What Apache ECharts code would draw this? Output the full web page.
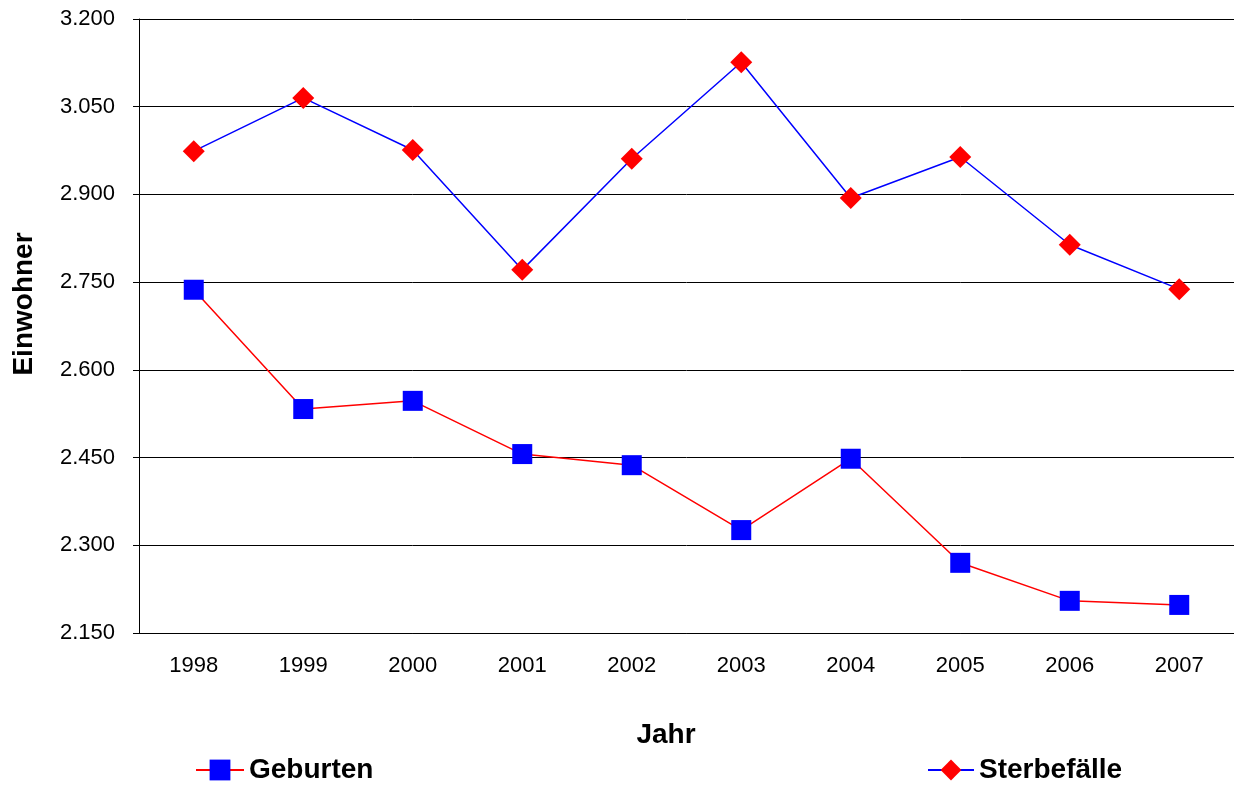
<!DOCTYPE html>
<html>
<head>
<meta charset="utf-8">
<script src="https://cdn.jsdelivr.net/npm/echarts@6/dist/echarts.min.js"></script>
<style>
    html, body { margin: 0; padding: 0; background: #fff; }
    #chart { width: 1234px; height: 785px; }
</style>
</head>
<body>
<div id="chart"></div>
<script>
// Jahre und Werte
var jahre = ['1998', '1999', '2000', '2001', '2002', '2003', '2004', '2005', '2006', '2007']
var geburten = [2737, 2533, 2547, 2456, 2437, 2326, 2448, 2270, 2205, 2198]
var sterbefaelle = [2974, 3065, 2976, 2771, 2961, 3126, 2894, 2964, 2814, 2738]

var chart = echarts.init(document.getElementById('chart'))
var font = 'Liberation Sans, Arial, sans-serif'

var option = {
    animation: false,
    textStyle: { fontFamily: font },
    grid: { left: 139, top: 19, right: 0, bottom: 152 },
    graphic: [
        {
            type: 'text',
            x: 24,
            y: 304,
            rotation: Math.PI / 2,
            style: {
                text: 'Einwohner',
                font: 'bold 28px ' + font,
                fill: '#000',
                textAlign: 'center',
                textVerticalAlign: 'middle',
            },
        },
        {
            type: 'text',
            x: 666,
            y: 735,
            style: {
                text: 'Jahr',
                font: 'bold 28px ' + font,
                fill: '#000',
                textAlign: 'center',
                textVerticalAlign: 'middle',
            },
        },
    ],
    legend: [
        {
            data: ['Geburten'],
            left: 195,
            top: 756,
            padding: 0,
            itemWidth: 48,
            itemHeight: 26,
            textStyle: { fontSize: 28, fontWeight: 'bold', color: '#000', fontFamily: font },
        },
        {
            data: ['Sterbefälle'],
            left: 927,
            top: 756,
            padding: 0,
            itemWidth: 46,
            itemHeight: 26,
            textStyle: { fontSize: 28, fontWeight: 'bold', color: '#000', fontFamily: font },
        },
    ],
    xAxis: {
        type: 'category',
        data: jahre,
        boundaryGap: true,
        axisLine: { lineStyle: { color: '#000', width: 1 } },
        axisTick: { inside: true, length: 6, lineStyle: { color: '#000' } },
        axisLabel: { color: '#000', fontSize: 22, margin: 22 },
    },
    yAxis: {
        type: 'value',
        min: 2150,
        max: 3200,
        interval: 150,
        axisLine: { show: true, lineStyle: { color: '#000', width: 1 } },
        axisTick: { show: true, length: 6, lineStyle: { color: '#000' } },
        splitLine: { lineStyle: { color: '#000', width: 1 } },
        axisLabel: {
            color: '#000',
            fontSize: 22,
            margin: 24,
            formatter: function(v) {
                return (v / 1000).toFixed(3)
            },
        },
    },
    series: [
        {
            name: 'Geburten',
            type: 'line',
            data: geburten,
            symbol: 'rect',
            symbolSize: 20,
            itemStyle: { color: '#0000ff' },
            lineStyle: { color: '#ff0000', width: 1.5 },
        },
        {
            name: 'Sterbefälle',
            type: 'line',
            data: sterbefaelle,
            symbol: 'diamond',
            symbolSize: 22,
            itemStyle: { color: '#ff0000' },
            lineStyle: { color: '#0000ff', width: 1.5 },
        },
    ],
}
option && chart.setOption(option)
</script>
</body>
</html>
